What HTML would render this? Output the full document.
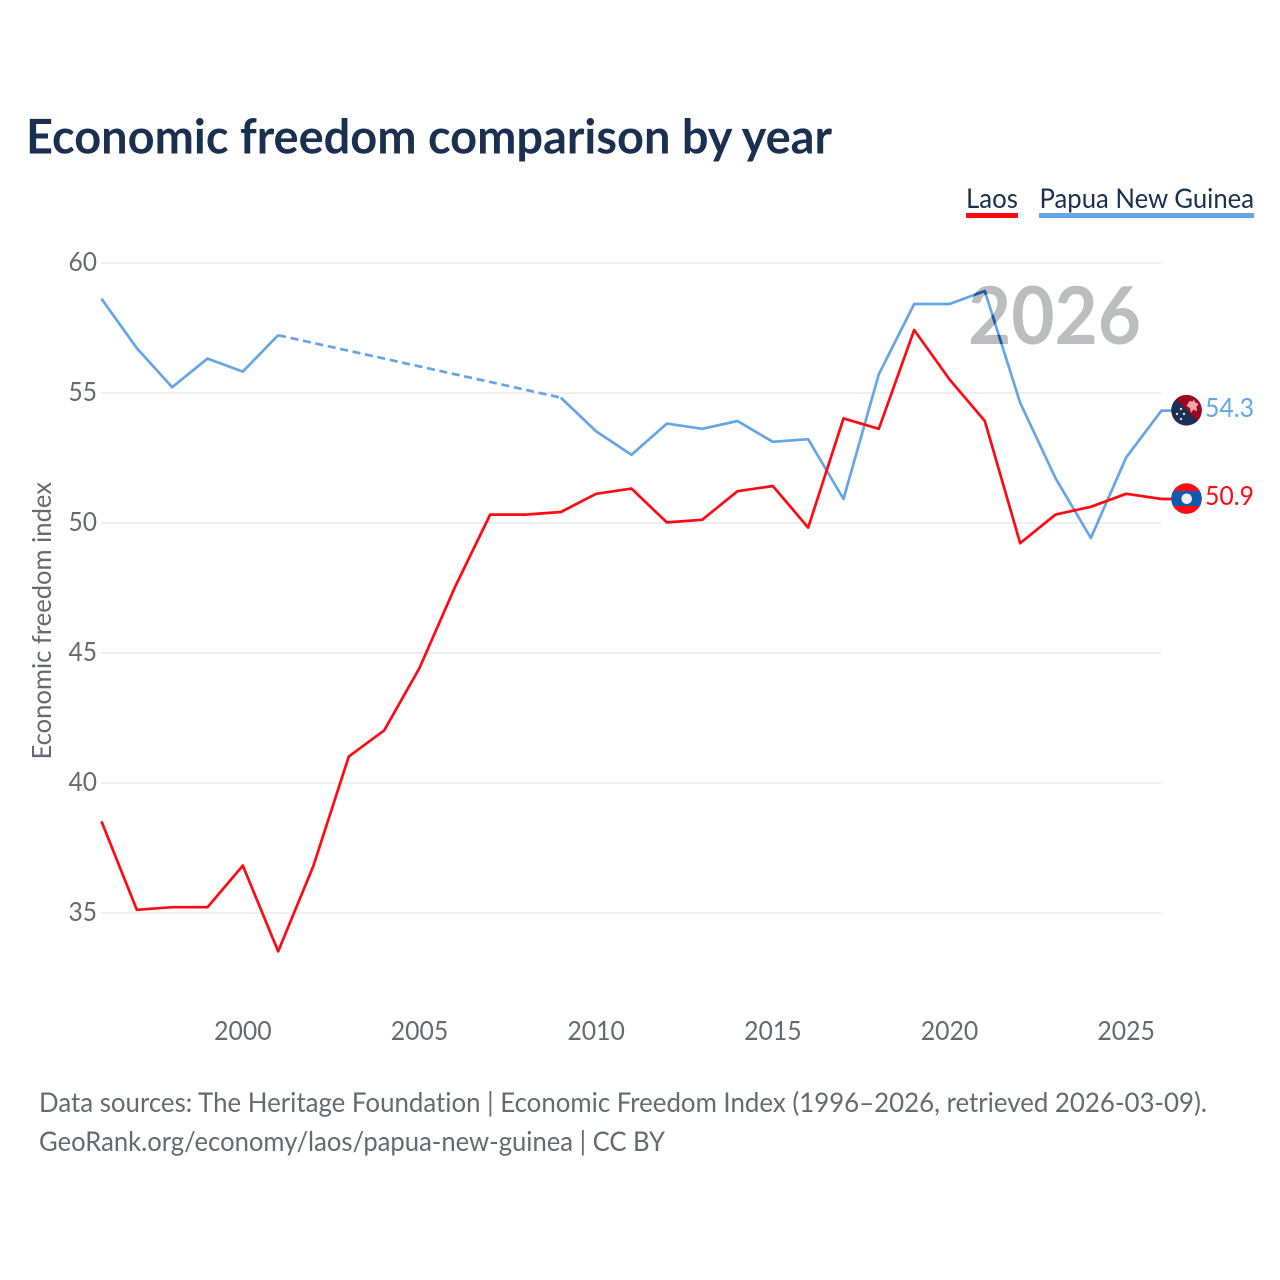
<!DOCTYPE html>
<html lang="en">
<head>
<meta charset="utf-8">
<title>Economic freedom comparison by year</title>
<style>
html,body{margin:0;padding:0;background:#fff;}
svg{display:block;font-family:"Lato","Carlito","Liberation Sans",sans-serif;font-variant-ligatures:none;}
</style>
</head>
<body>
<svg id="chart" width="1280" height="1280" viewBox="0 0 1280 1280" xmlns="http://www.w3.org/2000/svg">
  <rect x="0" y="0" width="1280" height="1280" fill="#ffffff"/>
  <text x="26" y="153.5" font-size="48" font-weight="700" fill="#1a3050" textLength="806" lengthAdjust="spacingAndGlyphs">Economic freedom comparison by year</text>

  <g>
    <g>
      <text x="966" y="208" font-size="27" fill="#1a3050" textLength="52" lengthAdjust="spacingAndGlyphs">Laos</text>
      <rect x="966" y="213" width="52" height="5" fill="#ff0a12"/>
    </g>
    <g>
      <text x="1039.5" y="208" font-size="27" fill="#1a3050" textLength="214.5" lengthAdjust="spacingAndGlyphs">Papua New Guinea</text>
      <rect x="1039" y="213" width="215" height="5" fill="#64a6e8"/>
    </g>
  </g>

  <g id="grid"></g>
  <g id="yticks"></g>
  <g id="xticks"></g>

  <text transform="translate(51,759.5) rotate(-90)" x="0" y="0" font-size="26" fill="#666a70" textLength="277.5" lengthAdjust="spacingAndGlyphs">Economic freedom index</text>

  <defs>
    <clipPath id="watermark-clip"><text x="968" y="344" font-size="80" font-weight="700" textLength="173" lengthAdjust="spacingAndGlyphs">2026</text></clipPath>
    <clipPath id="flag-clip-pg"><circle cx="1186.5" cy="410.3" r="15.3"/></clipPath>
    <clipPath id="flag-clip-la"><circle cx="1186.5" cy="498.6" r="15.3"/></clipPath>
  </defs>

  <text x="968" y="344" font-size="80" font-weight="700" fill="#bcbdbf" textLength="173" lengthAdjust="spacingAndGlyphs">2026</text>

  <g id="series"></g>
  <g id="overlap" clip-path="url(#watermark-clip)"></g>

  <g clip-path="url(#flag-clip-pg)">
    <rect x="1170" y="394" width="33" height="33" fill="#1b2f52"/>
    <polygon points="1170,393 1204,393 1204,427" fill="#a0061f"/>
    <path d="M1186.5,406 l3,-5 l3,0.5 l1.5,-2 l1,3 l3.5,1 l-2,3.5 l0.5,4.5 l-3.5,-2 l-2.5,3.5 l-1,-5 z" fill="#f4a6a6"/>
    <circle cx="1181" cy="409" r="1.2" fill="#dddddd"/>
    <circle cx="1177" cy="414" r="1.2" fill="#dddddd"/>
    <circle cx="1184" cy="414" r="1.2" fill="#dddddd"/>
    <circle cx="1181" cy="419" r="1.2" fill="#dddddd"/>
  </g>
  <g clip-path="url(#flag-clip-la)">
    <rect x="1170" y="482" width="33" height="33" fill="#ff0a12"/>
    <rect x="1170" y="491" width="33" height="15" fill="#0f5aae"/>
    <circle cx="1186.7" cy="498.8" r="5.3" fill="#eeeeee"/>
  </g>

  <text x="1205" y="417" font-size="26" fill="#64a6e8" textLength="49" lengthAdjust="spacingAndGlyphs">54.3</text>
  <text x="1205" y="505" font-size="26" fill="#ff0a12" textLength="49" lengthAdjust="spacingAndGlyphs">50.9</text>

  <text x="39" y="1112" font-size="27" fill="#666a70" textLength="1168" lengthAdjust="spacingAndGlyphs">Data sources: The Heritage Foundation | Economic Freedom Index (1996–2026, retrieved 2026-03-09).</text>
  <a><text x="39" y="1151" font-size="27" fill="#666a70" textLength="626" lengthAdjust="spacingAndGlyphs">GeoRank.org/economy/laos/papua-new-guinea | CC BY</text></a>
</svg>

<script>
const years = [1996,1997,1998,1999,2000,2001,2002,2003,2004,2005,2006,2007,2008,2009,2010,2011,2012,2013,2014,2015,2016,2017,2018,2019,2020,2021,2022,2023,2024,2025,2026];
const laosValues = [38.5,35.1,35.2,35.2,36.8,33.5,36.8,41.0,42.0,44.4,47.5,50.3,50.3,50.4,51.1,51.3,50.0,50.1,51.2,51.4,49.8,54.0,53.6,57.4,55.5,53.9,49.2,50.3,50.6,51.1,50.9];
const pngValues = [58.6,56.7,55.2,56.3,55.8,57.2,null,null,null,null,null,null,null,54.8,53.5,52.6,53.8,53.6,53.9,53.1,53.2,50.9,55.7,58.4,58.4,58.9,54.6,51.7,49.4,52.5,54.3];
const yTickValues = [35,40,45,50,55,60];
const xTickValues = [2000,2005,2010,2015,2020,2025];

const NS = 'http://www.w3.org/2000/svg';
function xScale(year){ return 101.5 + (year - 1996) * (1161.5 - 101.5) / 30; }
function yScale(value){ return 263 + (60 - value) * 26; }
function lineY(value){ return yScale(value) - 0.6; }

const gridLayer = document.getElementById('grid');
const yTickLayer = document.getElementById('yticks');
const xTickLayer = document.getElementById('xticks');
const seriesLayer = document.getElementById('series');
const overlapLayer = document.getElementById('overlap');

yTickValues.forEach(function(v){
  const line = document.createElementNS(NS,'line');
  
  
  line.setAttribute('x1', 101);
  line.setAttribute('x2', 1161);
  line.setAttribute('y1', yScale(v));
  line.setAttribute('y2', yScale(v));
  line.setAttribute('stroke', '#f0eeee');
  line.setAttribute('stroke-width', 2);
  gridLayer.appendChild(line);

  const label = document.createElementNS(NS,'text');
  
  
  label.setAttribute('x', 97);
  label.setAttribute('y', yScale(v) + 8);
  label.setAttribute('text-anchor', 'end');
  label.setAttribute('font-size', 26);
  label.setAttribute('textLength', 28.5);
  label.setAttribute('lengthAdjust', 'spacingAndGlyphs');
  label.setAttribute('fill', '#666a70');
  label.textContent = String(v);
  yTickLayer.appendChild(label);
});

xTickValues.forEach(function(y){
  const label = document.createElementNS(NS,'text');
  
  
  label.setAttribute('x', xScale(y));
  label.setAttribute('y', 1040);
  label.setAttribute('text-anchor', 'middle');
  label.setAttribute('font-size', 26);
  label.setAttribute('textLength', 57.5);
  label.setAttribute('lengthAdjust', 'spacingAndGlyphs');
  label.setAttribute('fill', '#666a70');
  label.textContent = String(y);
  xTickLayer.appendChild(label);
});

function polyline(layer, points, color, dashed, name){
  const path = document.createElementNS(NS,'polyline');
  
  
  path.setAttribute('points', points.map(function(p){ return p[0].toFixed(2) + ',' + p[1].toFixed(2); }).join(' '));
  path.setAttribute('fill', 'none');
  path.setAttribute('stroke', color);
  path.setAttribute('stroke-width', 2.7);
  path.setAttribute('stroke-linejoin', 'round');
  if (dashed) path.setAttribute('stroke-dasharray', '8 4.7');
  layer.appendChild(path);
}

function drawSeries(layer, values, color, name){
  let run = [];
  let last = null;
  values.forEach(function(v, i){
    if (v === null) {
      if (run.length > 1) polyline(layer, run, color, false, name + '-line');
      run = [];
      return;
    }
    const pt = [xScale(years[i]), lineY(v)];
    if (last && last.index !== i - 1) polyline(layer, [last.pt, pt], color, true, name + '-missing-data-line');
    run.push(pt);
    last = {index: i, pt: pt};
  });
  if (last) run.push([1172, last.pt[1]]);
  if (run.length > 1) polyline(layer, run, color, false, name + '-line');
}

drawSeries(seriesLayer, pngValues, '#64a6e8', 'papua-new-guinea');
drawSeries(seriesLayer, laosValues, '#ff0a12', 'laos');
drawSeries(overlapLayer, pngValues, '#1c5aa8', 'papua-new-guinea-overlap');
</script>
</body>
</html>
